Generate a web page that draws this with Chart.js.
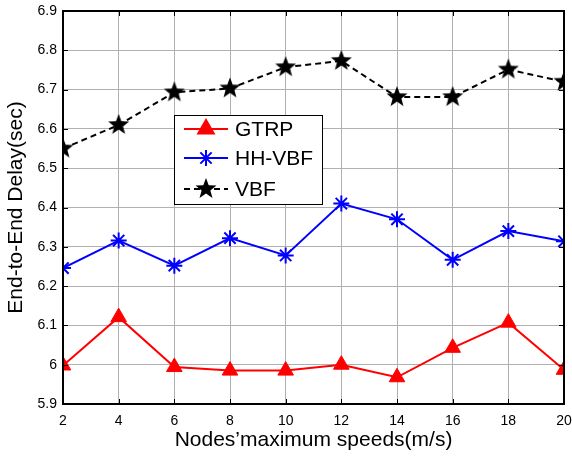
<!DOCTYPE html>
<html lang="en">
    <head>
        <meta charset="UTF-8" />
        <title>End-to-End Delay vs speed</title>
        <script src="https://cdn.jsdelivr.net/npm/chart.js"></script>
        <style>
            body { margin: 0; background: #fff; }
        </style>
    </head>
    <body>
        <canvas id="delay" width="572" height="457"></canvas>

        <script>
            // Data
            const speeds = [2, 4, 6, 8, 10, 12, 14, 16, 18, 20];
            const gtrp = [5.998, 6.121, 5.994, 5.985, 5.985, 6.0, 5.968, 6.043, 6.107, 5.987];
            const hhvbf = [6.246, 6.316, 6.252, 6.322, 6.278, 6.41, 6.37, 6.267, 6.34, 6.314];
            const vbf = [6.55, 6.61, 6.693, 6.703, 6.757, 6.773, 6.681, 6.681, 6.751, 6.72];

            const FONT = "Arial, 'Liberation Sans', sans-serif";

            // filled five point star for VBF markers
            function makeStar(r) {
                const c = document.createElement("canvas");
                const s = Math.ceil(r * 2 + 4);
                c.width = s;
                c.height = s;
                const g = c.getContext("2d");
                g.fillStyle = "#000";
                g.beginPath();
                for (let i = 0; i < 10; i++) {
                    const rad = i % 2 === 0 ? r : r * 0.42;
                    const a = -Math.PI / 2 + (i * Math.PI) / 5;
                    const px = s / 2 + rad * Math.cos(a);
                    const py = s / 2 + rad * Math.sin(a);
                    if (i === 0) g.moveTo(px, py);
                    else g.lineTo(px, py);
                }
                g.closePath();
                g.fill();
                return c;
            }
            const starImg = makeStar(11);

            function pts(arr) {
                return speeds.map((x, i) => ({ x: x, y: arr[i] }));
            }

            // inward ticks, frame and the legend box
            const matlabLook = {
                id: "matlabLook",
                afterDatasetsDraw(chart) {
                    const ctx = chart.ctx;
                    const a = chart.chartArea;
                    const xs = chart.scales.x;
                    const ys = chart.scales.y;
                    ctx.save();
                    ctx.strokeStyle = "#000";
                    ctx.lineWidth = 1;
                    ctx.beginPath();
                    xs.ticks.forEach((t) => {
                        const px = Math.round(xs.getPixelForValue(t.value)) + 0.5;
                        ctx.moveTo(px, a.bottom);
                        ctx.lineTo(px, a.bottom - 5);
                        ctx.moveTo(px, a.top);
                        ctx.lineTo(px, a.top + 5);
                    });
                    ys.ticks.forEach((t) => {
                        const py = Math.round(ys.getPixelForValue(t.value)) + 0.5;
                        ctx.moveTo(a.left, py);
                        ctx.lineTo(a.left + 5, py);
                        ctx.moveTo(a.right, py);
                        ctx.lineTo(a.right - 5, py);
                    });
                    ctx.stroke();
                    // frame
                    ctx.lineWidth = 2;
                    ctx.strokeRect(a.left, a.top, a.right - a.left, a.bottom - a.top);

                    // legend
                    const lx = 174, ly = 115, lw = 148, lh = 89;
                    ctx.fillStyle = "#fff";
                    ctx.fillRect(lx, ly, lw, lh);
                    ctx.lineWidth = 1;
                    ctx.strokeRect(lx + 0.5, ly + 0.5, lw, lh);
                    const rows = [14, 43, 74];
                    chart.data.datasets.forEach((ds, i) => {
                        const y = ly + rows[i];
                        ctx.strokeStyle = ds.borderColor;
                        ctx.lineWidth = 2;
                        ctx.setLineDash(ds.borderDash || []);
                        ctx.beginPath();
                        ctx.moveTo(lx + 10, y);
                        ctx.lineTo(lx + 54, y);
                        ctx.stroke();
                        ctx.setLineDash([]);
                        ctx.fillStyle = ds.pointBackgroundColor;
                        ctx.strokeStyle = ds.pointBorderColor;
                        Chart.helpers.drawPoint(
                            ctx,
                            {
                                pointStyle: ds.pointStyle,
                                radius: ds.pointRadius,
                                borderWidth: ds.pointBorderWidth,
                                rotation: 0,
                            },
                            lx + 32,
                            y
                        );
                        ctx.fillStyle = "#000";
                        ctx.font = "21px " + FONT;
                        ctx.textBaseline = "middle";
                        ctx.fillText(ds.label, lx + 61, y + 1);
                    });
                    ctx.restore();
                },
            };

            const ctx = document.getElementById("delay").getContext("2d");
            new Chart(ctx, {
                type: "line",
                data: {
                    datasets: [
                        {
                            label: "GTRP",
                            data: pts(gtrp),
                            borderColor: "#ff0000",
                            borderWidth: 2,
                            pointStyle: "triangle",
                            pointRadius: 9,
                            pointBackgroundColor: "#ff0000",
                            pointBorderColor: "#ff0000",
                            pointBorderWidth: 1,
                        },
                        {
                            label: "HH-VBF",
                            data: pts(hhvbf),
                            borderColor: "#0000ff",
                            borderWidth: 2,
                            pointStyle: "star",
                            pointRadius: 8,
                            pointBackgroundColor: "#0000ff",
                            pointBorderColor: "#0000ff",
                            pointBorderWidth: 2,
                        },
                        {
                            label: "VBF",
                            data: pts(vbf),
                            borderColor: "#000000",
                            borderWidth: 2,
                            borderDash: [6, 4],
                            pointStyle: starImg,
                            pointRadius: 11,
                            pointBackgroundColor: "#000",
                            pointBorderColor: "#000",
                            pointBorderWidth: 1,
                        },
                    ],
                },
                options: {
                    responsive: false,
                    animation: false,
                    layout: {
                        autoPadding: false,
                        padding: { top: 11, right: 8, left: 0, bottom: 0 },
                    },
                    plugins: {
                        legend: { display: false },
                        tooltip: { enabled: false },
                    },
                    scales: {
                        x: {
                            type: "linear",
                            min: 2,
                            max: 20,
                            afterFit: (s) => {
                                s.height = 53;
                                s.paddingLeft = 0;
                                s.paddingRight = 0;
                            },
                            ticks: {
                                stepSize: 2,
                                color: "#000",
                                padding: 9,
                                font: { family: FONT, size: 14 },
                            },
                            grid: { color: "#b0b0b0", drawTicks: false },
                            border: { display: false },
                            title: {
                                display: true,
                                text: "Nodes\u2019maximum speeds(m/s)",
                                color: "#000",
                                padding: { top: 0 },
                                font: { family: FONT, size: 21 },
                            },
                        },
                        y: {
                            min: 5.9,
                            max: 6.9,
                            afterFit: (s) => {
                                s.width = 63;
                                s.paddingTop = 0;
                                s.paddingBottom = 0;
                            },
                            ticks: {
                                stepSize: 0.1,
                                color: "#000",
                                padding: 6,
                                font: { family: FONT, size: 14 },
                                callback: (v) => String(Number(v.toFixed(1))),
                            },
                            grid: { color: "#b0b0b0", drawTicks: false },
                            border: { display: false },
                            title: {
                                display: true,
                                text: "End-to-End Delay(sec)",
                                color: "#000",
                                padding: { top: 4 },
                                font: { family: FONT, size: 21 },
                            },
                        },
                    },
                },
                plugins: [matlabLook],
            });
        </script>
    </body>
</html>
